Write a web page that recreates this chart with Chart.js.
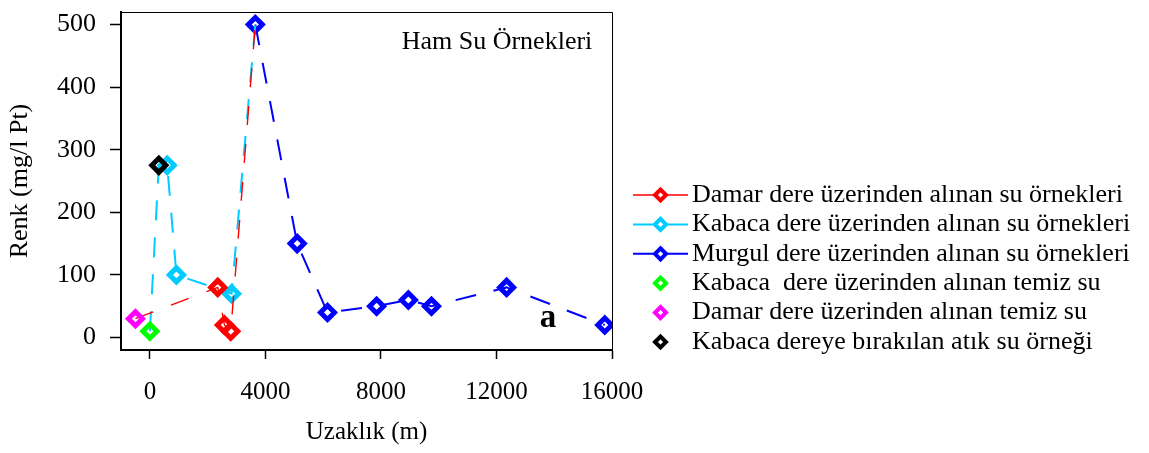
<!DOCTYPE html>
<html>
<head>
<meta charset="utf-8">
<script src="https://cdn.jsdelivr.net/npm/chart.js@4/dist/chart.umd.min.js"></script>
<style>
  html, body { margin: 0; padding: 0; background: #fff; }
  #wrap { width: 1149px; height: 453px; }
</style>
</head>
<body>
<div id="wrap"><canvas id="c" width="1149" height="453"></canvas></div>
<script>
// Distances (m) and colour values (mg/l Pt) per sampling group
const murgulDistance = [3650, 5100, 6150, 7850, 8950, 9750, 12350, 15750];
const murgulColour   = [500, 150, 40, 50, 60, 50, 80, 20];

const damarDistance = [2350, 2580, 2800];
const damarColour   = [80, 20, 10];

const kabacaDistance = [600, 920, 2830];
const kabacaColour   = [275, 100, 70];

const kabacaCleanDistance = [0];
const kabacaCleanColour   = [10];

const damarCleanDistance = [-500];
const damarCleanColour   = [30];

const wasteDistance = [310];
const wasteColour   = [275];

const xTicks = [0, 4000, 8000, 12000, 16000];
const yTicks = [0, 100, 200, 300, 400, 500];

const seriesLabels = [
  'Damar dere üzerinden alınan su örnekleri',
  'Kabaca dere üzerinden alınan su örnekleri',
  'Murgul dere üzerinden alınan su örnekleri',
  'Kabaca  dere üzerinden alınan temiz su',
  'Damar dere üzerinden alınan temiz su',
  'Kabaca dereye bırakılan atık su örneği'
];

const pts = (xs, ys) => xs.map((x, i) => ({ x: x, y: ys[i] }));

// Stream lines start at their clean-water / discharge points and run into the Murgul peak
const murgulStart = { x: murgulDistance[0], y: murgulColour[0] };
const damarLine = [].concat(pts(damarCleanDistance, damarCleanColour),
                            pts(damarDistance, damarColour), [murgulStart]);
const kabacaLine = [].concat(pts(kabacaCleanDistance, kabacaCleanColour),
                             pts(wasteDistance, wasteColour),
                             pts(kabacaDistance, kabacaColour), [murgulStart]);
const damarOwn = [1, damarLine.length - 2];   // indices that carry a marker
const kabacaOwn = [2, kabacaLine.length - 2];

const SERIF = "'Liberation Serif', 'Times New Roman', serif";
const CLEAR = 'rgba(0,0,0,0)';
const MARK_R = 7;
const MARK_W = 5;

function lineSeries(label, data, color, width, dash, own, order) {
  return {
    label, data, order,
    borderColor: color, borderWidth: width, borderDash: dash,
    showLine: true, tension: 0,
    pointStyle: 'rectRot',
    pointRadius: ctx => (own ? (ctx.dataIndex >= own[0] && ctx.dataIndex <= own[1] ? MARK_R : 0) : MARK_R),
    pointBorderWidth: MARK_W,
    pointBorderColor: color,
    pointBackgroundColor: CLEAR,
    legendLine: true
  };
}
function markerSeries(label, data, color, order) {
  return {
    label, data, order,
    showLine: false,
    pointStyle: 'rectRot', pointRadius: MARK_R, pointBorderWidth: MARK_W,
    pointBorderColor: color, borderColor: color, pointBackgroundColor: CLEAR,
    legendLine: false
  };
}

const datasets = [
  lineSeries(seriesLabels[0], damarLine, '#FF0000', 1.4, [19, 19], damarOwn, 3),
  lineSeries(seriesLabels[1], kabacaLine, '#00CCFF', 2, [20, 17], kabacaOwn, 4),
  lineSeries(seriesLabels[2], pts(murgulDistance, murgulColour), '#0000FF', 2, [21, 18], null, 5),
  markerSeries(seriesLabels[3], pts(kabacaCleanDistance, kabacaCleanColour), '#00FF00', 2),
  markerSeries(seriesLabels[4], pts(damarCleanDistance, damarCleanColour), '#FF00FF', 1),
  markerSeries(seriesLabels[5], pts(wasteDistance, wasteColour), '#000000', 0)
];

// Frame on the top and right sides of the plot area
const framePlugin = {
  id: 'frame',
  afterDraw(chart) {
    const { ctx, chartArea: a } = chart;
    ctx.save();
    ctx.strokeStyle = '#000';
    ctx.lineWidth = 1;
    ctx.beginPath();
    ctx.moveTo(a.left, a.top + 0.5);
    ctx.lineTo(a.right + 0.5, a.top + 0.5);
    ctx.lineTo(a.right + 0.5, a.bottom);
    ctx.stroke();
    ctx.restore();
  }
};

// Panel caption and the panel letter
const notePlugin = {
  id: 'notes',
  afterDraw(chart) {
    const { ctx, chartArea: a } = chart;
    ctx.save();
    ctx.fillStyle = '#000';
    ctx.textBaseline = 'alphabetic';
    ctx.textAlign = 'center';
    ctx.font = "26px " + SERIF;
    ctx.fillText('Ham Su Örnekleri', a.left + 376, a.top + 36.5);
    ctx.font = "bold 33px " + SERIF;
    ctx.fillText('a', a.left + 427, a.top + 315);
    ctx.restore();
  }
};

// Legend to the right of the plot: line + marker for stream series, marker only for single samples
const legendPlugin = {
  id: 'sideLegend',
  afterDraw(chart) {
    const { ctx } = chart;
    const x0 = 633, x1 = 688, xm = 660.5, xt = 692, y0 = 195, step = 29.4;
    ctx.save();
    chart.data.datasets.forEach((ds, i) => {
      const y = y0 + i * step;
      if (ds.legendLine) {
        ctx.strokeStyle = ds.borderColor;
        ctx.lineWidth = ds.borderWidth;
        ctx.setLineDash([]);
        ctx.beginPath();
        ctx.moveTo(x0, y);
        ctx.lineTo(x1, y);
        ctx.stroke();
      }
      ctx.fillStyle = '#fff';
      ctx.strokeStyle = ds.pointBorderColor;
      ctx.lineWidth = 4;
      Chart.helpers.drawPoint(ctx, { pointStyle: 'rectRot', rotation: 0, radius: 5.5, borderWidth: 4 }, xm, y);
      ctx.fillStyle = '#000';
      ctx.font = "26px " + SERIF;
      ctx.textAlign = 'left';
      ctx.textBaseline = 'middle';
      ctx.fillText(ds.label, xt, y);
    });
    ctx.restore();
  }
};

const plain = v => String(v);

new Chart(document.getElementById('c'), {
  type: 'scatter',
  data: { datasets },
  options: {
    responsive: false,
    animation: false,
    layout: { padding: { top: 10, right: 537, left: 0, bottom: 0 } },
    plugins: { legend: { display: false }, tooltip: { enabled: false } },
    elements: { point: { hoverRadius: MARK_R } },
    scales: {
      x: {
        type: 'linear', position: 'bottom',
        min: -1000, max: 16000,
        afterBuildTicks: s => { s.ticks = xTicks.map(v => ({ value: v })); },
        afterFit: s => { s.height = 103; s.paddingLeft = 0; s.paddingRight = 0; },
        grid: { drawOnChartArea: false, drawTicks: true, tickLength: 9, tickWidth: 1.5, tickColor: '#000' },
        border: { display: true, width: 2, color: '#000' },
        ticks: { color: '#000', font: { family: SERIF, size: 25 }, padding: 18, maxRotation: 0, callback: plain },
        title: { display: true, text: 'Uzaklık (m)', color: '#000',
                 font: { family: SERIF, size: 25 }, padding: { top: 0, bottom: 6 } }
      },
      y: {
        type: 'linear', position: 'left',
        min: -20, max: 520,
        afterBuildTicks: s => { s.ticks = yTicks.map(v => ({ value: v })); },
        afterFit: s => { s.width = 121; s.paddingTop = 0; s.paddingBottom = 0; },
        grid: { drawOnChartArea: false, drawTicks: true, tickLength: 11, tickWidth: 1.5, tickColor: '#000' },
        border: { display: true, width: 2, color: '#000' },
        ticks: { color: '#000', font: { family: SERIF, size: 26 }, padding: 14, callback: plain },
        title: { display: true, text: 'Renk (mg/l Pt)', color: '#000',
                 font: { family: SERIF, size: 26 }, padding: { top: 5, bottom: 0 } }
      }
    }
  },
  plugins: [framePlugin, notePlugin, legendPlugin]
});
</script>
</body>
</html>
